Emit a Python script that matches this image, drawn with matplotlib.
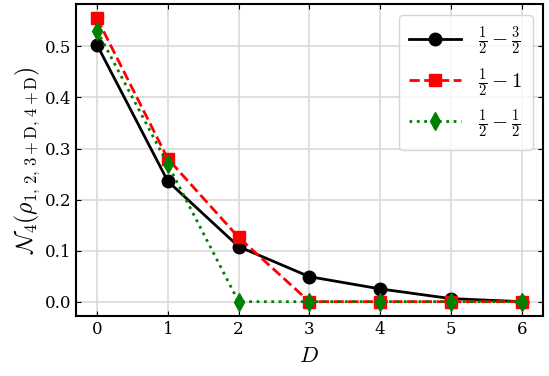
import matplotlib
matplotlib.use("Agg")
import matplotlib.pyplot as plt

D = [0, 1, 2, 3, 4, 5, 6]
n_32 = [0.503, 0.236, 0.108, 0.049, 0.025, 0.006, 0.0]
n_1 = [0.555, 0.280, 0.126, 0.0, 0.0, 0.0, 0.0]
n_12 = [0.531, 0.269, 0.0, 0.0, 0.0, 0.0, 0.0]
labels = [r"$\frac{1}{2}-\frac{3}{2}$", r"$\frac{1}{2}-1$", r"$\frac{1}{2}-\frac{1}{2}$"]

plt.rcParams['font.family'] = 'DejaVu Serif'
plt.rcParams['mathtext.fontset'] = 'cm'
plt.rcParams['font.size'] = 12

fig, ax = plt.subplots(figsize=(5.49, 3.76), dpi=100)
ax.plot(D, n_32, '-o', color='black', lw=2, ms=9, label=labels[0])
ax.plot(D, n_1, '--s', color='red', lw=2, ms=9, label=labels[1])
ax.plot(D, n_12, ':d', color='green', lw=2, ms=9, label=labels[2])

ax.grid(True, color='#d9d9d9', lw=1.2)
ax.set_axisbelow(True)
ax.tick_params(direction='in', top=True, right=True, labelsize=12)
for s in ax.spines.values():
    s.set_linewidth(1.5)
ax.set_xlabel(r"$D$", fontsize=16, labelpad=5)
ax.set_ylabel(r"$\mathcal{N}_4(\rho_{1,\,2,\,3+\mathrm{D},\,4+\mathrm{D}})$", fontsize=17, labelpad=2)
ax.set_yticks([0.0, 0.1, 0.2, 0.3, 0.4, 0.5])
leg = ax.legend(loc='upper right', fontsize=15, handlelength=2.5, borderpad=0.5, labelspacing=0.42)
fig.subplots_adjust(left=0.138, right=0.989, top=0.989, bottom=0.16)
fig.savefig("out.png", dpi=100)
